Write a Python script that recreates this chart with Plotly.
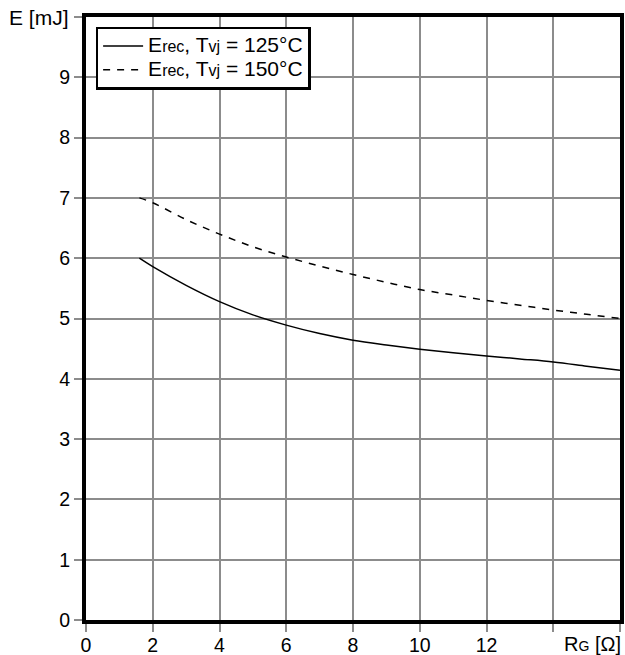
import plotly.graph_objects as go

rg_125 = [1.6, 2, 3, 4, 5, 6, 7, 8, 9, 10, 11, 12, 13, 14, 15, 16]
e_125 = [6.0, 5.86, 5.55, 5.28, 5.06, 4.89, 4.75, 4.64, 4.56, 4.49, 4.43, 4.38, 4.33, 4.28, 4.21, 4.14]
rg_150 = [1.6, 2, 3, 4, 5, 6, 7, 8, 9, 10, 11, 12, 13, 14, 15, 16]
e_150 = [7.0, 6.92, 6.64, 6.40, 6.19, 6.02, 5.87, 5.73, 5.60, 5.48, 5.39, 5.30, 5.22, 5.14, 5.07, 5.00]

x_ticks = [0, 2, 4, 6, 8, 10, 12, 14, 16]
x_ticktext = ["0", "2", "4", "6", "8", "10", "12", "", ""]
y_ticks = [0, 1, 2, 3, 4, 5, 6, 7, 8, 9, 10]
y_ticktext = ["0", "1", "2", "3", "4", "5", "6", "7", "8", "9", ""]

font = "Liberation Sans, Arial, sans-serif"
FS = 19.5
FL = 21
BIG = "<span style='font-size:21px'>{}</span>"


def legend_name(temp):
    return BIG.format("E") + "rec" + BIG.format(", T") + "vj" + BIG.format(" = " + temp)


fig = go.Figure()
fig.add_trace(go.Scatter(x=rg_125, y=e_125, mode="lines",
                         line=dict(color="black", width=1.5, shape="spline"),
                         name=legend_name("125°C")))
fig.add_trace(go.Scatter(x=rg_150, y=e_150, mode="lines",
                         line=dict(color="black", width=1.5, dash="7px,7px", shape="spline"),
                         name=legend_name("150°C")))

axis_common = dict(showgrid=True, gridcolor="#8c8c8c", gridwidth=2,
                   showline=True, linecolor="black", linewidth=4, mirror=True,
                   ticks="outside", ticklen=8, tickcolor="#8c8c8c", tickwidth=2,
                   zeroline=False, tickfont=dict(size=FS), automargin=False)

fig.update_layout(
    width=625, height=655,
    margin=dict(l=86, r=5, t=17, b=35, autoexpand=False),
    paper_bgcolor="white", plot_bgcolor="white",
    font=dict(family=font, size=FS, color="black"),
    showlegend=True,
    legend=dict(x=0.018, y=0.984, xanchor="left", yanchor="top",
                bgcolor="white", bordercolor="black", borderwidth=2.5,
                font=dict(size=16), tracegroupgap=0, itemwidth=40),
    xaxis=dict(range=[0, 16], tickvals=x_ticks, ticktext=x_ticktext,
               ticklabelstandoff=-3, **axis_common),
    yaxis=dict(range=[0, 10], tickvals=y_ticks, ticktext=y_ticktext, **axis_common),
    annotations=[
        dict(text="E [mJ]", xref="paper", yref="paper", x=0, y=1,
             xanchor="right", yanchor="middle", xshift=-15, showarrow=False,
             font=dict(size=FL)),
        dict(text="R<span style='font-size:14px'>G</span> [Ω]", xref="x", yref="paper",
             x=16, y=0, xanchor="right", yanchor="top", xshift=3, yshift=-11,
             showarrow=False, font=dict(size=20)),
    ],
)

fig.write_html("out.html", config={"displayModeBar": False},
               post_script="document.body.style.margin='0';document.body.style.overflow='hidden';")
